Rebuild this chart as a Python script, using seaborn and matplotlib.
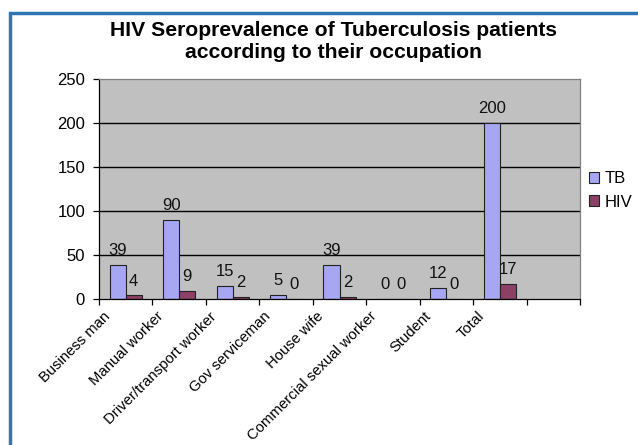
import numpy as np
import pandas as pd
import seaborn as sns
import matplotlib.pyplot as plt
import matplotlib.transforms as mtransforms
from matplotlib.patches import Rectangle

occupations = ["Business man", "Manual worker", "Driver/transport worker",
               "Gov serviceman", "House wife", "Commercial sexual worker",
               "Student", "Total"]
tb_counts = [39, 90, 15, 5, 39, 0, 12, 200]
hiv_counts = [4, 9, 2, 0, 2, 0, 0, 17]
y_ticks = [0, 50, 100, 150, 200, 250]

TB_COLOR = "#9999FF"
HIV_COLOR = "#993366"

df = pd.DataFrame({
    "occupation": occupations * 2,
    "series": ["TB"] * len(occupations) + ["HIV"] * len(occupations),
    "count": tb_counts + hiv_counts,
})

sns.set_theme(style="white")
plt.rcParams["font.family"] = ["Liberation Sans", "DejaVu Sans"]
plt.rcParams["text.color"] = "black"
plt.rcParams["xtick.color"] = "black"
plt.rcParams["ytick.color"] = "black"

fig = plt.figure(figsize=(6.38, 4.45), dpi=100)
ax = fig.add_axes([99 / 638, 1 - 299 / 445, 481 / 638, 220 / 445])

sns.barplot(data=df, x="occupation", y="count", hue="series",
            palette={"TB": TB_COLOR, "HIV": HIV_COLOR}, width=0.6,
            edgecolor="#222222", linewidth=0.8, ax=ax, legend=True)

for cont in ax.containers:
    ax.bar_label(cont, fmt="%d", padding=5, fontsize=12, color="#111111")

ax.set_facecolor("#C0C0C0")
ax.set_xlim(-0.5, 8.5)
ax.set_ylim(0, 250)
ax.set_yticks(y_ticks)
ax.set_xlabel("")
ax.set_ylabel("")
for y in y_ticks[1:-1]:
    ax.axhline(y, color="black", lw=1.0, zorder=0.5)

ax.set_xticks(range(len(occupations)))
ax.set_xticks(np.arange(-0.5, 9.0, 1.0), minor=True)
ax.tick_params(axis="x", which="major", length=0, pad=11)
ax.tick_params(axis="x", which="minor", length=4, width=0.9,
               direction="out", color="black", bottom=True)
ax.tick_params(axis="y", length=4, width=0.9, direction="out",
               color="black", left=True, labelsize=12, pad=6)
ax.set_xticklabels(occupations, rotation=45, ha="right", va="center",
                   rotation_mode="anchor", fontsize=10.7)
shift = mtransforms.ScaledTranslation(-18 / 100, 0, fig.dpi_scale_trans)
for lbl in ax.get_xticklabels():
    lbl.set_transform(lbl.get_transform() + shift)

for side in ["top", "right"]:
    ax.spines[side].set_color("#808080")
    ax.spines[side].set_linewidth(0.9)
for side in ["left", "bottom"]:
    ax.spines[side].set_color("black")
    ax.spines[side].set_linewidth(0.9)

ax.legend(loc="upper left", bbox_to_anchor=(581 / 638, 1 - 163 / 445),
          bbox_transform=fig.transFigure, frameon=False, fontsize=12,
          handlelength=0.6, handleheight=0.6, handletextpad=0.3,
          labelspacing=0.5, borderpad=0)

fig.text(333 / 638, 1 - 41 / 445,
         "HIV Seroprevalence of Tuberculosis patients\naccording to their occupation",
         ha="center", va="center", fontsize=15.2, fontweight="bold",
         linespacing=1.2)

fig.patches.append(Rectangle((10 / 638, -0.1), 1.2, 1.1 - 13 / 445,
                             transform=fig.transFigure, fill=False,
                             edgecolor="#2E75B6", lw=2.5))

fig.savefig("out.png", dpi=100)
